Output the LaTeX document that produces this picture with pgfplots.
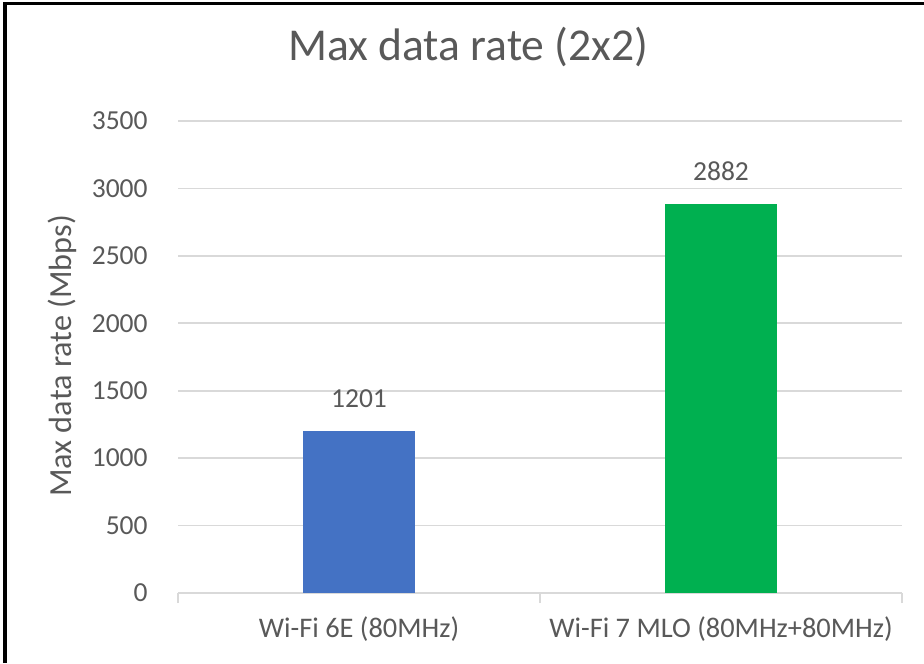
\documentclass[border=0pt]{standalone}
\usepackage{pgfplots}
\pgfplotsset{compat=1.18}
\usepackage{fontspec}
\setmainfont{Carlito}

\definecolor{txtgray}{HTML}{595959}
\definecolor{gridgray}{HTML}{D9D9D9}
\definecolor{barblue}{HTML}{4472C4}
\definecolor{bargreen}{HTML}{00B050}

\begin{document}
\begin{tikzpicture}
\useasboundingbox (0,0) rectangle (462pt,331.5pt);
\draw[line width=1.6pt] (2.5pt,0) -- (2.5pt,329.85pt) -- (462pt,329.85pt);

\begin{axis}[
    at={(89pt,35pt)}, anchor=south west,
    scale only axis,
    width=362pt, height=236pt,
    ybar, bar width=0.312, bar shift=0pt,
    xmin=-0.5, xmax=1.5,
    ymin=0, ymax=3500,
    ytick={0,500,...,3500},
    xtick={0,1},
    xticklabels={Wi-Fi 6E (80MHz), Wi-Fi 7 MLO (80MHz+80MHz)},
    minor xtick={-0.5,0.5,1.5},
    major tick length=0pt,
    minor tick length=5pt,
    tick align=outside,
    tick style={draw=gridgray, line width=0.9pt},
    axis lines*=left,
    x axis line style={draw=gridgray, line width=0.9pt},
    y axis line style={draw=none},
    ymajorgrids,
    major grid style={draw=gridgray, line width=0.9pt},
    /pgf/number format/assume math mode=true,
    /pgf/number format/1000 sep={},
    yticklabel style={font=\fontsize{13.75}{16}\selectfont, text=txtgray, inner sep=0pt, anchor=east, xshift=-15pt},
    xticklabel style={font=\fontsize{14.2}{16}\selectfont, text=txtgray, anchor=base, yshift=-22pt},
    title={Max data rate (2x2)},
    title style={at={(axis description cs:0.401,1)}, anchor=base, yshift=24pt,
        font=\fontsize{22.8}{26}\selectfont, text=txtgray},
    nodes near coords,
    every node near coord/.append style={font=\fontsize{13.75}{16}\selectfont, text=txtgray, anchor=base, yshift=12pt},
]
\addplot[fill=barblue, draw=none] coordinates {(0,1201)};
\addplot[fill=bargreen, draw=none] coordinates {(1,2882)};
\end{axis}

% y axis label
\node[rotate=90, anchor=center, inner sep=0pt, text=txtgray,
      font=\fontsize{16.1}{18}\selectfont] at (31.25pt,153.5pt) {Max data rate (Mbps)};
\end{tikzpicture}
\end{document}
